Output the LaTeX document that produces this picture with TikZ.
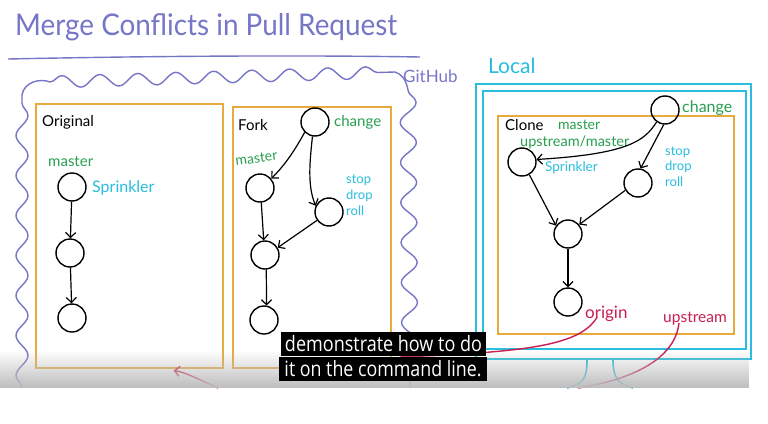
\documentclass[tikz,border=0pt]{standalone}
\usepackage{fontspec}
\setmainfont{Lato}
\newfontfamily\subfont{Open Sans}
\usetikzlibrary{decorations.pathmorphing,arrows.meta,fadings}
\definecolor{hpurple}{RGB}{118,118,200}
\definecolor{horange}{RGB}{232,170,60}
\definecolor{hgreen}{RGB}{40,160,80}
\definecolor{hcyan}{RGB}{40,190,220}
\definecolor{hred}{RGB}{200,30,80}
\newcommand\hsz[1]{\fontsize{#1}{#1}\selectfont}
\tikzfading[name=fadedown, top color=transparent!100, bottom color=transparent!0]
\begin{document}
\begin{tikzpicture}[x=1pt,y=-1pt,
  commit/.style={circle,draw=black,line width=1.4pt,minimum size=28pt,inner sep=0pt},
  flow/.style={draw=black,line width=1.2pt,-{Straight Barb[length=5pt,width=10pt]}},
  repo/.style={draw=horange,line width=1.6pt,minimum width=#1,inner sep=0pt,anchor=north west},
  lab/.style={inner sep=0pt,anchor=base west},
  cloud/.style={draw=hpurple,line width=1.4pt},
  wavy/.style={decorate,decoration={snake,amplitude=#1,segment length=40pt}},
  lcl/.style={draw=hcyan,line width=1.6pt,inner sep=0pt,anchor=north west},
  redl/.style={draw=hred,line width=1.4pt},
  sub/.style={fill=black,text=white,inner sep=0pt,minimum height=24pt}]
\useasboundingbox (0,0) rectangle (768,423);
\fill[white] (0,0) rectangle (768,423);

% title
\node[lab,text=hpurple] (title) at (15,35) {\resizebox{382pt}{22pt}{Merge Conflicts in Pull Request}};
\coordinate (ulA) at (8,59);
\coordinate (ulB) at (420,57);
\draw[cloud] (ulA) .. controls (150,56) and (300,55) .. (ulB);

% GitHub cloud
\coordinate (cl1) at (22,388);
\coordinate (cl2) at (22,95);
\coordinate (cl3) at (50,82);
\coordinate (cl4) at (395,72);
\coordinate (cl5) at (408,90);
\coordinate (cl6) at (410,388);
\draw[cloud,wavy=6pt] (cl1) -- (cl2);
\draw[cloud] (cl2) .. controls (24,82) and (40,78) .. (cl3);
\draw[cloud,decorate,decoration={snake,amplitude=6pt,segment length=38pt}] (cl3) -- (cl4);
\draw[cloud] (cl4) .. controls (402,74) and (406,80) .. (cl5);
\draw[cloud,wavy=8pt] (cl5) -- (cl6);
\node[lab,text=hpurple,font=\hsz{17}] (github) at (403,82) {GitHub};

% Original repo
\node[repo=187pt,minimum height=264pt] (origbox) at (35,103) {};
\node[lab,font=\hsz{15}] (origlbl) at (42,126) {Original};
\node[lab,text=hgreen,font=\hsz{15}] (omaster) at (48,166) {master};
\node[lab,text=hcyan,font=\hsz{16}] (osprink) at (92,192) {Sprinkler};
\node[commit] (o1) at (72,187) {};
\node[commit] (o2) at (70,253) {};
\node[commit] (o3) at (72,318) {};
\draw[flow] (o1) -- (o2);
\draw[flow] (o2) -- (o3);

% Fork repo
\node[repo=158pt,minimum height=261pt] (forkbox) at (232,106) {};
\node[lab,font=\hsz{15}] (forklbl) at (238,130) {Fork};
\node[lab,text=hgreen,font=\hsz{15}] (fchangel) at (334,126) {change};
\node[lab,text=hgreen,font=\hsz{14},rotate=8] (fmasterl) at (236,166) {master};
\node[lab,text=hcyan,font=\fontsize{13}{16}\selectfont,align=left] (fsdr) at (346,215) {stop\\drop\\roll};
\node[commit] (fchange) at (315,122) {};
\node[commit] (fmaster) at (260,188) {};
\node[commit] (fstop) at (329,212) {};
\node[commit] (fmerge) at (265,255) {};
\node[commit] (fbottom) at (264,320) {};
\draw[flow] (fchange.225) .. controls (295,150) and (285,165) .. (fmaster.40);
\draw[flow] (fchange.260) .. controls (310,160) and (307,185) .. (fstop.155);
\draw[flow] (fmaster.275) -- (fmerge.95);
\draw[flow] (fstop.215) -- (fmerge.30);
\draw[flow] (fmerge.275) -- (fbottom.80);

% Local computer
\node[lcl,minimum width=275pt,minimum height=275pt] (localout) at (475,83) {};
\node[lcl,minimum width=263pt,minimum height=258pt] (localin) at (482,90) {};
\node[lab,text=hcyan,font=\hsz{21}] (locallbl) at (488,73) {Local};
\coordinate (st1) at (567,388);
\coordinate (st2) at (633,388);
\draw[draw=hcyan,line width=1.6pt] ([xshift=112pt]localout.south west) .. controls (587,378) and (584,384) .. (st1);
\draw[draw=hcyan,line width=1.6pt] ([xshift=138pt]localout.south west) .. controls (613,378) and (618,384) .. (st2);

% Clone repo
\node[repo=236pt,minimum height=218pt] (clonebox) at (497,115) {};
\node[lab,font=\hsz{15}] (clonelbl) at (505,130) {Clone};
\node[lab,text=hgreen,font=\hsz{14}] (cmasterl) at (558,129) {master};
\node[lab,text=hgreen,font=\hsz{14.5}] (cupl) at (520,146) {upstream/master};
\node[lab,text=hcyan,font=\hsz{13.5}] (csprink) at (545,171) {Sprinkler};
\node[lab,text=hgreen,font=\hsz{16}] (cchangel) at (682,112) {change};
\node[lab,text=hcyan,font=\fontsize{13}{15.5}\selectfont,align=left] (csdr) at (665,186) {stop\\drop\\roll};
\node[commit] (cchange) at (665,110) {};
\node[commit] (cleft) at (522,162) {};
\node[commit] (cstop) at (638,183) {};
\node[commit] (cmerge) at (568,234) {};
\node[commit] (cbottom) at (568,302) {};
\draw[flow] (cchange.235) .. controls (645,140) and (630,154) .. (cleft.10);
\draw[flow] (cchange.265) -- (cstop.80);
\draw[flow] (cleft.300) -- (cmerge.145);
\draw[flow] (cstop.210) -- (cmerge.40);
\draw[flow] (cmerge.270) -- (cbottom.90);
\node[lab,text=hred,font=\hsz{17}] (origin) at (585,318) {origin};
\node[lab,text=hred,font=\hsz{15.5}] (upstream) at (663,322) {upstream};

% remote links
\coordinate (oEnd) at (400,357);
\coordinate (uEnd) at (578,388);
\coordinate (aStart) at (218,388);
\draw[redl] ([xshift=12pt,yshift=4pt]origin.south west) .. controls (580,345) and (530,352) .. (oEnd);
\draw[redl] ([xshift=16pt,yshift=2pt]upstream.south west) .. controls (675,360) and (630,380) .. (uEnd);
\draw[redl,-{Straight Barb[length=5pt,width=10pt]}] (aStart) .. controls (200,380) and (185,372) .. ([xshift=-50pt,yshift=-2pt]origbox.south east);

% video overlay gradient
\fill[black!26,path fading=fadedown] (0,350) rectangle (750,388);

% subtitles
\node[sub,minimum width=205pt] (sub1) at (383.5,344) {\resizebox{197pt}{16pt}{\subfont demonstrate how to do}};
\node[sub,minimum width=208pt] (sub2) at (383,369) {\resizebox{197pt}{16pt}{\subfont it on the command line.}};
\end{tikzpicture}
\end{document}
